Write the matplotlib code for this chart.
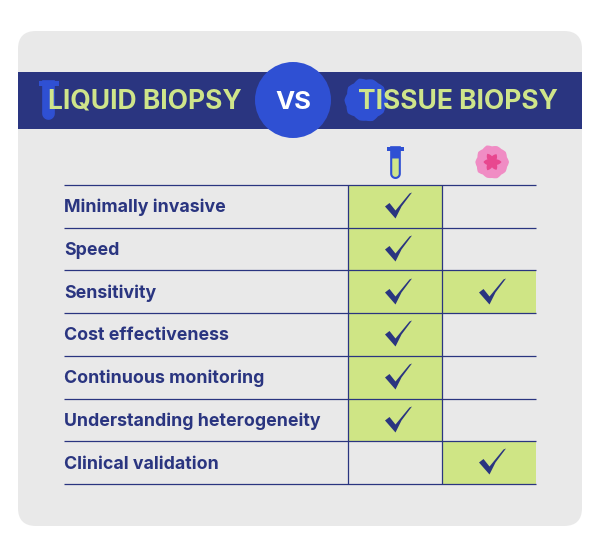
import matplotlib
matplotlib.use("Agg")
import matplotlib.pyplot as plt
import numpy as np
from matplotlib.patches import Circle, FancyBboxPatch, Polygon, Rectangle
from matplotlib.path import Path

plt.rcParams["font.family"] = ["Inter", "DejaVu Sans"]

rows = [
    "Minimally invasive",
    "Speed",
    "Sensitivity",
    "Cost effectiveness",
    "Continuous monitoring",
    "Understanding heterogeneity",
    "Clinical validation",
]
liquid = [1, 1, 1, 1, 1, 1, 0]
tissue = [0, 0, 1, 0, 0, 0, 1]
left_title = "LIQUID BIOPSY"
right_title = "TISSUE BIOPSY"

navy = "#2a3580"
blue = "#2f50d3"
green = "#cfe585"
title_green = "#cfe58a"
panel = "#e9e9e9"

W, H = 600, 557
fig = plt.figure(figsize=(W / 100, H / 100), dpi=100, facecolor="white")

# background layer in pixels
bg = fig.add_axes([0, 0, 1, 1])
bg.set_xlim(0, W)
bg.set_ylim(H, 0)
bg.axis("off")


def tube(ax, x, top, scale, body, fill=None, edge=None):
    w = 5.5 * scale
    t = np.linspace(np.pi, 0, 20)
    bottom = top + 38 * scale
    xs = x + w * np.cos(t)
    ys = bottom - w + w * np.sin(t)
    outline = [(x - w, top)] + list(zip(xs, ys)) + [(x + w, top)]
    ax.add_patch(Polygon(outline, closed=True, fc=body, ec=edge or body, lw=1.2, zorder=3))
    if fill:
        liq_top = top + 14 * scale
        inner = 0.72 * w
        xs2 = x + inner * np.cos(t)
        ys2 = bottom - w + inner * np.sin(t)
        pts = [(x - inner, liq_top)] + list(zip(xs2, ys2)) + [(x + inner, liq_top)]
        ax.add_patch(Polygon(pts, closed=True, fc=fill, ec="none", zorder=4))
    ax.add_patch(Rectangle((x - 10 * scale, top), 20 * scale, 4.5 * scale, fc=body, ec="none", zorder=4))


def blob(ax, cx, cy, r, radii, color, zorder=3):
    t = np.linspace(0, 2 * np.pi, len(radii), endpoint=False)
    tt = np.linspace(0, 2 * np.pi, 300)
    rr = np.interp(tt, np.r_[t, 2 * np.pi], np.r_[radii, radii[0]])
    ax.add_patch(Polygon(np.c_[cx + r * rr * np.cos(tt), cy + r * rr * np.sin(tt)],
                         closed=True, fc=color, ec="none", zorder=zorder))


outer = [1.0, 0.93, 0.98, 0.92, 1.0, 0.94, 0.97, 0.91, 1.02, 0.93, 0.98, 0.9,
         1.0, 0.93, 1.02, 0.92, 0.98, 0.94, 1.0, 0.92]
inner = [1, 0.6, 0.95, 0.55, 1, 0.6, 0.9, 0.55, 1, 0.6, 0.95, 0.55]

bg.add_patch(FancyBboxPatch((36, 49), 528, 459, boxstyle="round,pad=18,rounding_size=18",
                            fc=panel, ec="none", zorder=0))
bg.add_patch(Rectangle((18, 72), 564, 57, fc=navy, ec="none", zorder=1))
bg.add_patch(Circle((293, 100), 38, fc=blue, ec="none", zorder=2))
bg.text(293, 109, "VS", color="white", fontsize=18.5, fontweight="bold",
        ha="center", va="baseline", zorder=5)

tube(bg, 48.5, 81, 1.0, blue)
blob(bg, 366, 100, 22, outer, blue)
bg.text(48, 109, left_title, color=title_green, fontsize=19, fontweight="bold",
        ha="left", va="baseline", zorder=5)
bg.text(358, 109, right_title, color=title_green, fontsize=19, fontweight="bold",
        ha="left", va="baseline", zorder=5)

tube(bg, 395.5, 147, 0.82, blue, fill=title_green)
blob(bg, 492, 162, 17, outer, "#f08cc4")
blob(bg, 492, 162, 9.5, inner, "#e8478f", zorder=4)

# table: one unit per row and per tick column
x0, x1, x2, x3 = 64, 348, 441.5, 536
top, bot = 185, 484
ax = fig.add_axes([x0 / W, 1 - bot / H, (x3 - x0) / W, (bot - top) / H])
ax.patch.set_alpha(0)
col_w = (x3 - x1) / 2
ax.set_xlim(-(x1 - x0) / col_w, 2)
ax.set_ylim(len(rows), 0)
ax.axis("off")

# marker paths are y-up, the tick leans up to the right
check = Path([(-13.5, -1), (-9, 2.5), (-3, -5), (11, 12), (13.5, 13),
              (3, -1), (-3, -13), (-13.5, -1)], closed=True)

for i, name in enumerate(rows):
    for col, vals in enumerate([liquid, tissue]):
        if vals[i]:
            ax.add_patch(Rectangle((col, i), 1, 1, fc=green, ec="none", zorder=1))
            ax.scatter(col + 0.53, i + 0.47, marker=check, s=378, c=navy, linewidths=0, zorder=4)
    ax.text(ax.get_xlim()[0], i + 0.64, name, color=navy, fontsize=12.8, fontweight="bold",
            ha="left", va="baseline", zorder=5)

ax.hlines(np.arange(len(rows) + 1), ax.get_xlim()[0], 2, color=navy, lw=0.9, zorder=3, clip_on=False)
ax.vlines([0, 1], 0, len(rows), color=navy, lw=0.9, zorder=3)

fig.savefig("out.png", dpi=100, facecolor="white")
